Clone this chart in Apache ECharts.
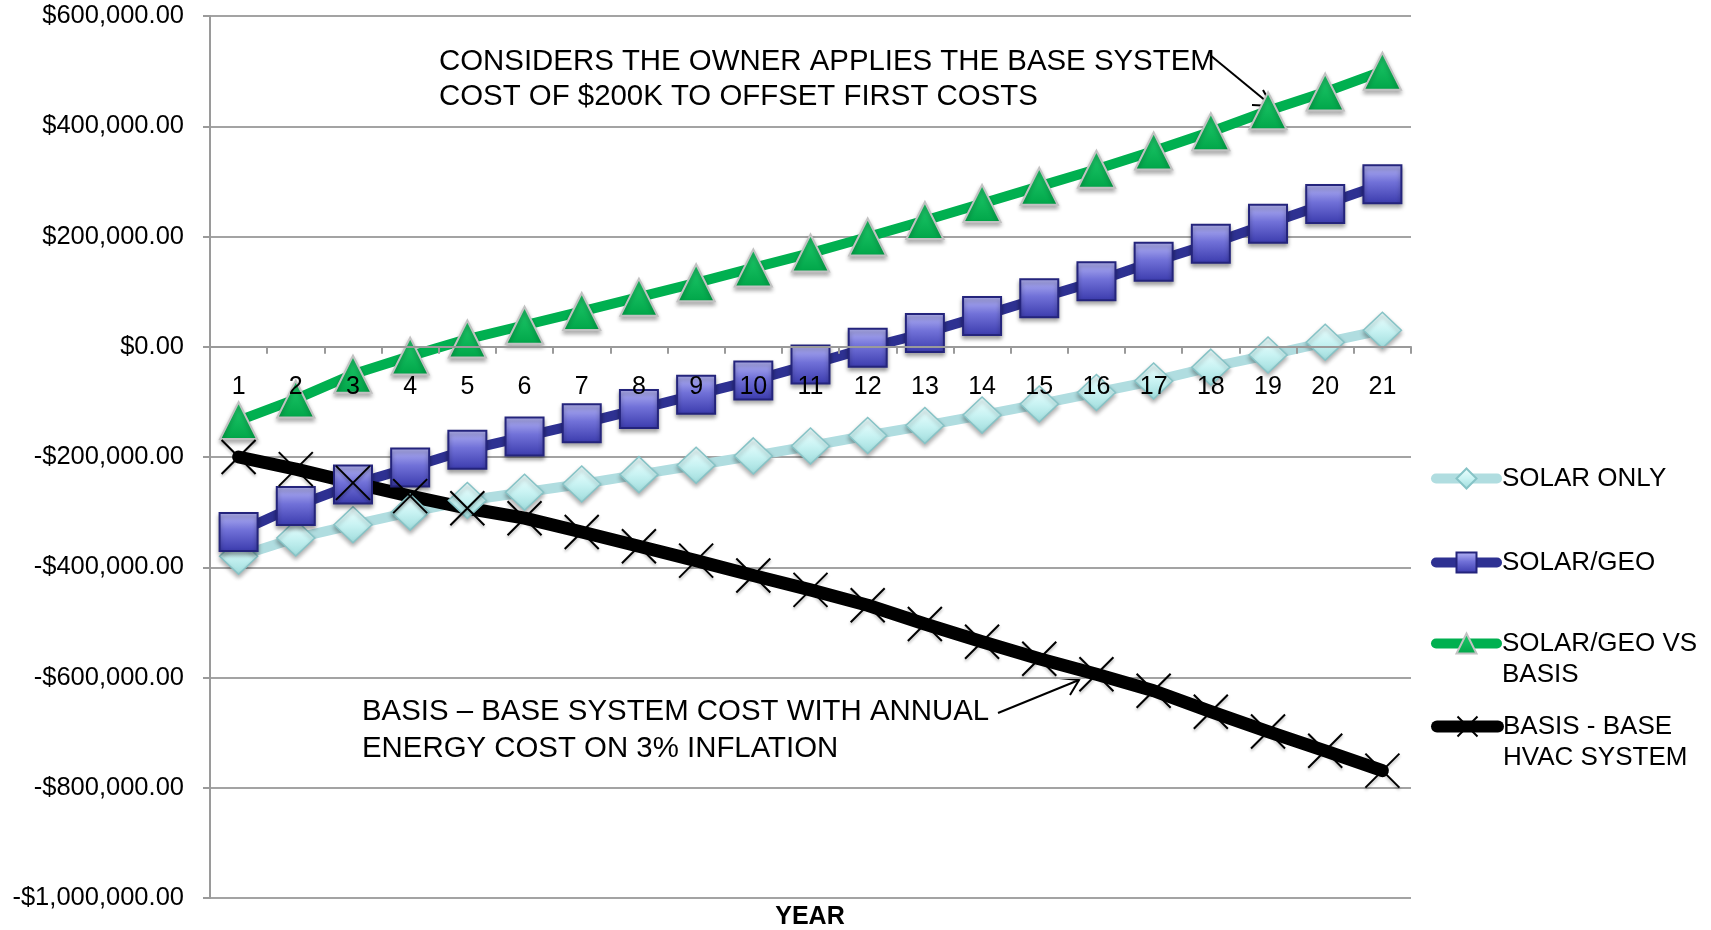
<!DOCTYPE html>
<html>
<head>
<meta charset="utf-8">
<title>Solar / Geo vs Basis</title>
<script src="https://cdn.jsdelivr.net/npm/echarts@6/dist/echarts.min.js"></script>
<style>
  html, body { margin: 0; padding: 0; background: #fff; }
  #chart { width: 1711px; height: 930px; }
</style>
</head>
<body>
<div id="chart"></div>
<script>
var years = ['1', '2', '3', '4', '5', '6', '7', '8', '9', '10', '11', '12', '13', '14', '15', '16', '17', '18', '19', '20', '21']
var solarOnly = [-380000, -347000, -323000, -300000, -279000, -264000, -249000, -232000, -215000, -198000, -180000,
  -161000, -143000, -124000, -104000, -83000, -62000, -37000, -15000, 8000, 30000]
var solarGeo = [-336000, -289000, -250000, -219000, -187000, -163000, -139000, -113000, -87000, -61000, -32000,
  -2000, 25000, 56000, 88000, 119000, 154000, 187000, 223000, 259000, 295000]
var solarGeoVsBasis = [-134000, -95000, -50000, -17000, 14000, 39000, 64000, 90000, 116000, 143000, 170000,
  199000, 229000, 260000, 291000, 322000, 355000, 390000, 428000, 462000, 500000]
var basis = [-200000, -222000, -247000, -271000, -293000, -311000, -336000, -362000, -388000, -415000, -441000,
  -469000, -503000, -535000, -566000, -594000, -624000, -662000, -698000, -733000, -769000]

// legend text, the leading empty line keeps the icon on the first text line
var legendLabels = {
  'SOLAR ONLY': 'SOLAR ONLY',
  'SOLAR/GEO': 'SOLAR/GEO',
  'SOLAR/GEO VS BASIS': '\nSOLAR/GEO VS\nBASIS',
  'BASIS - BASE HVAC SYSTEM': '\nBASIS - BASE\nHVAC SYSTEM'
}

var font = 'Liberation Sans, Arial, sans-serif'
var gray = '#9a9a9a'
var yMin = -1000000
var yMax = 600000

function grad(stops) {
  return { type: 'linear', x: 0, y: 0, x2: 0, y2: 1, colorStops: stops }
}

function legendFor(name, top, lineWidth) {
  return {
    data: [name],
    orient: 'vertical',
    left: 1431,
    top: top,
    padding: 0,
    itemWidth: 61,
    itemHeight: 25,
    selectedMode: false,
    lineStyle: { width: lineWidth, cap: 'round' },
    formatter: function(n) { return legendLabels[n] },
    textStyle: {
      fontFamily: font,
      fontSize: 26,
      color: '#000',
      lineHeight: 31
    }
  }
}

var gridTop = 16
var gridBottom = 32
var plotHeight = 930 - gridTop - gridBottom
// move the category axis up to the $0 line
var zeroOffset = -plotHeight * (0 - yMin) / (yMax - yMin)

var myChart = echarts.init(document.getElementById('chart'))

myChart.setOption({
  animation: false,
  backgroundColor: '#fff',
  textStyle: { fontFamily: font },
  grid: {
    left: 210,
    right: 300,
    top: gridTop,
    bottom: gridBottom,
    containLabel: false,
    outerBoundsMode: 'none'
  },
  legend: [
    legendFor('SOLAR ONLY', 463, 10),
    legendFor('SOLAR/GEO', 547, 10),
    legendFor('SOLAR/GEO VS BASIS', 597, 10),
    legendFor('BASIS - BASE HVAC SYSTEM', 680, 12)
  ],
  xAxis: {
    type: 'category',
    data: years,
    boundaryGap: true,
    position: 'bottom',
    offset: zeroOffset,
    z: 10,
    axisLine: { onZero: false, lineStyle: { color: gray, width: 2 } },
    axisTick: { show: true, length: 7, lineStyle: { color: gray, width: 2 } },
    axisLabel: { interval: 0, margin: 28, fontSize: 25, color: '#000', fontFamily: font },
    splitLine: { show: false }
  },
  yAxis: {
    type: 'value',
    min: yMin,
    max: yMax,
    interval: 200000,
    axisLine: { show: true, lineStyle: { color: gray, width: 2 } },
    axisTick: { show: true, length: 7, lineStyle: { color: gray, width: 2 } },
    axisLabel: {
      margin: 26,
      fontSize: 25.5,
      color: '#000',
      fontFamily: font,
      formatter: function(v) {
        var s = Math.abs(v).toLocaleString('en-US', { minimumFractionDigits: 2, maximumFractionDigits: 2 })
        return (v < 0 ? '-$' : '$') + s
      }
    },
    splitLine: { lineStyle: { color: '#a3a3a3', width: 2 } }
  },
  series: [
    {
      name: 'SOLAR ONLY',
      type: 'line',
      data: solarOnly,
      symbol: 'diamond',
      symbolSize: [38, 36],
      lineStyle: { color: '#b0dde0', width: 10, cap: 'round', join: 'round' },
      itemStyle: {
        color: grad([
          { offset: 0, color: '#f0ffff' },
          { offset: 0.5, color: '#c9f3f3' },
          { offset: 1, color: '#9edcdc' }
        ]),
        borderColor: '#86c3c6',
        borderWidth: 1.5,
        shadowBlur: 4,
        shadowOffsetY: 3,
        shadowColor: 'rgba(0,0,0,0.3)'
      },
      emphasis: { disabled: true }
    },
    {
      name: 'SOLAR/GEO',
      type: 'line',
      data: solarGeo,
      symbol: 'rect',
      symbolSize: 38,
      lineStyle: { color: '#2e3192', width: 10, cap: 'round', join: 'round' },
      itemStyle: {
        color: grad([
          { offset: 0, color: '#b8b8f6' },
          { offset: 0.45, color: '#7171d8' },
          { offset: 1, color: '#3a3aac' }
        ]),
        borderColor: '#24247c',
        borderWidth: 2,
        shadowBlur: 4,
        shadowOffsetY: 3,
        shadowColor: 'rgba(0,0,0,0.35)'
      },
      emphasis: { disabled: true }
    },
    {
      name: 'SOLAR/GEO VS BASIS',
      type: 'line',
      data: solarGeoVsBasis,
      symbol: 'triangle',
      symbolSize: [37, 37],
      lineStyle: { color: '#00b050', width: 10, cap: 'round', join: 'round' },
      itemStyle: {
        color: grad([
          { offset: 0, color: '#22cc6e' },
          { offset: 1, color: '#00a548' }
        ]),
        borderColor: '#c2c2c2',
        borderWidth: 2,
        shadowBlur: 4,
        shadowOffsetY: 3,
        shadowColor: 'rgba(0,0,0,0.3)'
      },
      emphasis: { disabled: true }
    },
    {
      name: 'BASIS - BASE HVAC SYSTEM',
      type: 'line',
      data: basis,
      symbol: 'path://M0,0L10,10M10,0L0,10',
      symbolSize: 34,
      lineStyle: { color: '#000', width: 13, cap: 'round', join: 'round' },
      itemStyle: {
        color: '#000',
        borderColor: '#000',
        borderWidth: 2,
        shadowBlur: 3,
        shadowOffsetY: 2,
        shadowColor: 'rgba(0,0,0,0.3)'
      },
      emphasis: { disabled: true }
    }
  ],
  graphic: [
    {
      type: 'text',
      left: 439,
      top: 44,
      style: {
        text: 'CONSIDERS THE OWNER APPLIES THE BASE SYSTEM\nCOST OF $200K TO OFFSET FIRST COSTS',
        font: '29.4px Liberation Sans, Arial, sans-serif',
        lineHeight: 35,
        fill: '#000'
      }
    },
    {
      type: 'line',
      shape: { x1: 1210, y1: 55, x2: 1272, y2: 106 },
      style: { stroke: '#000', lineWidth: 2 }
    },
    {
      type: 'polyline',
      shape: { points: [[1263, 90], [1272, 106], [1252, 105]] },
      style: { stroke: '#000', lineWidth: 2, fill: null }
    },
    {
      type: 'text',
      left: 362,
      top: 694,
      style: {
        text: 'BASIS \u2013 BASE SYSTEM COST WITH ANNUAL\nENERGY COST ON 3% INFLATION',
        font: '29.4px Liberation Sans, Arial, sans-serif',
        lineHeight: 36.5,
        fill: '#000'
      }
    },
    {
      type: 'line',
      shape: { x1: 998, y1: 713, x2: 1079, y2: 680 },
      style: { stroke: '#000', lineWidth: 2 }
    },
    {
      type: 'polyline',
      shape: { points: [[1059, 678], [1079, 680], [1070, 695]] },
      style: { stroke: '#000', lineWidth: 2, fill: null }
    },
    {
      type: 'text',
      x: 810,
      y: 917,
      style: {
        text: 'YEAR',
        font: 'bold 25px Liberation Sans, Arial, sans-serif',
        align: 'center',
        verticalAlign: 'middle',
        fill: '#000'
      }
    }
  ]
})
</script>
</body>
</html>
